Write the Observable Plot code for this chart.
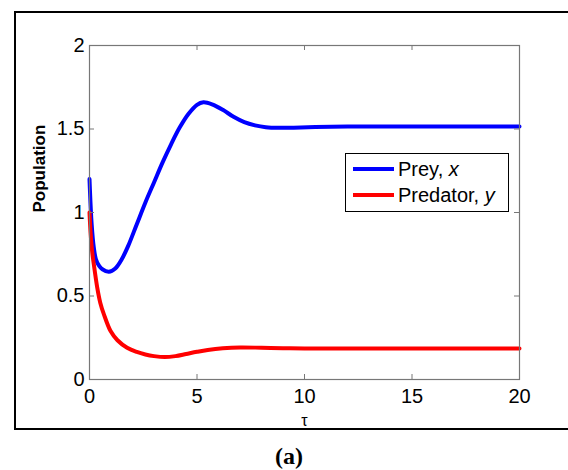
<!DOCTYPE html>
<html>
<head>
<meta charset="utf-8">
<script src="https://cdn.jsdelivr.net/npm/d3@7"></script>
<script src="https://cdn.jsdelivr.net/npm/@observablehq/plot@0.6"></script>
<style>
  html, body { margin: 0; padding: 0; background: #fff; overflow: hidden; }
  #wrap { position: relative; width: 568px; height: 470px; font-family: "Liberation Sans", Arial, sans-serif; }
  #chart svg, #chart svg text { font-family: "Liberation Sans", Arial, sans-serif; }
  #frame { position: absolute; left: 14px; top: 11px; width: 600px; height: 415px; border: 2px solid #000; pointer-events: none; }
  #legend { position: absolute; left: 345px; top: 153px; width: 162px; height: 57px; border: 1px solid #000; background: #fff; font-size: 20px; color: #000; }
  .row { position: absolute; left: 0; height: 26px; line-height: 26px; width: 100%; }
  .sw { position: absolute; left: 7px; width: 41px; height: 4px; top: 11px; }
  .lt { position: absolute; left: 52px; top: 0; white-space: nowrap; }
  #cap { position: absolute; left: 0; top: 442px; width: 578px; height: 28px; text-align: center; font-family: "Liberation Serif", "Times New Roman", serif; font-weight: bold; font-size: 24px; line-height: 28px; color: #000; }
</style>
</head>
<body>
<div id="wrap">
  <div id="chart"></div>
  <div id="frame"></div>
  <div id="legend"></div>
  <div id="cap">(a)</div>
</div>
<script>
// Data
const tPrey = [0, 0.1, 0.2, 0.3, 0.45, 0.6, 0.9, 1.2, 1.5, 1.8, 2.2, 2.6, 3.0, 3.4, 3.8, 4.2, 4.6, 5.0, 5.3, 5.7, 6.2, 6.7, 7.2, 7.7, 8.2, 8.8, 9.5, 10.5, 12, 14, 17, 20];
const prey  = [1.2, 0.93, 0.79, 0.72, 0.68, 0.66, 0.645, 0.665, 0.72, 0.80, 0.93, 1.06, 1.18, 1.30, 1.41, 1.51, 1.59, 1.645, 1.66, 1.648, 1.615, 1.573, 1.541, 1.522, 1.511, 1.507, 1.508, 1.512, 1.515, 1.515, 1.515, 1.515];
const tPred = [0, 0.05, 0.12, 0.2, 0.36, 0.5, 0.67, 0.98, 1.3, 1.75, 2.2, 2.6, 3.0, 3.5, 4.0, 4.5, 5.0, 5.5, 6.2, 7.0, 8.0, 9.0, 10, 12, 15, 20];
const pred  = [1.0, 0.88, 0.77, 0.69, 0.55, 0.46, 0.39, 0.29, 0.235, 0.19, 0.165, 0.15, 0.14, 0.134, 0.14, 0.153, 0.166, 0.177, 0.187, 0.192, 0.19, 0.187, 0.186, 0.186, 0.186, 0.186];
const xTicks = [0, 5, 10, 15, 20];
const yTicks = [0, 0.5, 1, 1.5, 2];
const seriesNames = ["Prey, ", "Predator, "];
const seriesVars = ["x", "y"];
const seriesColors = ["#0000ff", "#ff0000"];
const xLabel = "τ";
const yLabel = "Population";

const preyData = tPrey.map((t, i) => ({t, v: prey[i]}));
const predData = tPred.map((t, i) => ({t, v: pred[i]}));

const W = 568, H = 440;
const mTop = 45, mBottom = 61, mLeft = 89, mRight = 49;
const innerH = H - mTop - mBottom, innerW = W - mLeft - mRight;
const tick = 5, axisColor = "#777";

const chart = Plot.plot({
  width: W, height: H,
  marginTop: mTop, marginBottom: mBottom, marginLeft: mLeft, marginRight: mRight,
  style: {fontFamily: "'Liberation Sans', Arial, sans-serif", fontSize: "20px", color: "#000", background: "transparent"},
  x: {domain: [0, 20]},
  y: {domain: [0, 2]},
  marks: [
    Plot.line(preyData, {x: "t", y: "v", stroke: seriesColors[0], strokeWidth: 4, curve: "catmull-rom"}),
    Plot.line(predData, {x: "t", y: "v", stroke: seriesColors[1], strokeWidth: 4, curve: "catmull-rom"}),
    Plot.frame({stroke: axisColor, strokeWidth: 1.2}),
    Plot.tickX(xTicks, {x: d => d, insetTop: innerH - tick, stroke: axisColor}),
    Plot.tickX(xTicks, {x: d => d, insetBottom: innerH - tick, stroke: axisColor}),
    Plot.tickY(yTicks, {y: d => d, insetRight: innerW - tick, stroke: axisColor}),
    Plot.tickY(yTicks, {y: d => d, insetLeft: innerW - tick, stroke: axisColor}),
    Plot.axisX(xTicks, {tickSize: 0, tickPadding: 9, label: null, tickFormat: d => String(d)}),
    Plot.axisY(yTicks, {tickSize: 0, tickPadding: 5, label: null, tickFormat: d => String(d)}),
    Plot.text([yLabel], {text: d => d, frameAnchor: "left", rotate: -90, dx: -50, fontWeight: "bold", fontSize: 17}),
    Plot.text([xLabel], {text: d => d, frameAnchor: "bottom", dy: 46, fontSize: 16})
  ]
});
document.getElementById("chart").appendChild(chart);

const legend = document.getElementById("legend");
seriesNames.forEach((name, i) => {
  const row = document.createElement("div");
  row.className = "row";
  row.style.top = (2 + i * 25.6) + "px";
  const sw = document.createElement("div");
  sw.className = "sw";
  sw.style.background = seriesColors[i];
  const lt = document.createElement("div");
  lt.className = "lt";
  lt.innerHTML = name + "<i>" + seriesVars[i] + "</i>";
  row.appendChild(sw);
  row.appendChild(lt);
  legend.appendChild(row);
});
</script>
</body>
</html>
